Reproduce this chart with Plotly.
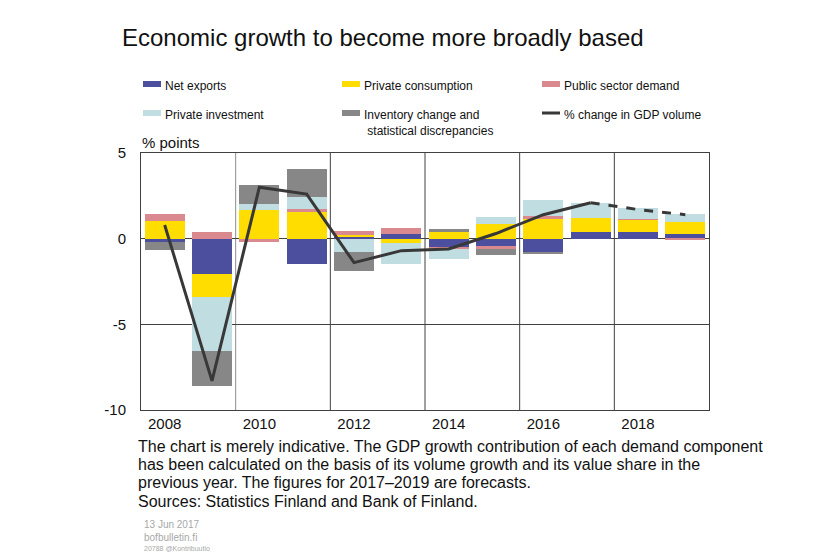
import plotly.graph_objects as go

years = [2008, 2009, 2010, 2011, 2012, 2013, 2014, 2015, 2016, 2017, 2018, 2019]
net_exports = [-0.17, -2.05, 0.0, -1.47, 0.10, 0.27, -0.52, -0.42, -0.75, 0.41, 0.41, 0.27]
private_consumption = [1.04, -1.37, 1.66, 1.56, 0.13, -0.25, 0.41, 0.85, 1.12, 0.77, 0.71, 0.68]
public_sector = [0.39, 0.41, -0.17, 0.16, 0.19, 0.37, -0.10, -0.21, 0.19, 0.0, 0.03, -0.05]
private_investment = [0.0, -3.11, 0.39, 0.71, -0.75, -1.23, -0.56, 0.39, 0.97, 0.92, 0.64, 0.48]
inventory = [-0.52, -2.09, 1.10, 1.61, -1.12, 0.0, 0.15, -0.31, -0.12, 0.0, 0.0, 0.0]
gdp = [0.8, -8.3, 3.0, 2.6, -1.4, -0.7, -0.6, 0.3, 1.4, 2.1, 1.7, 1.4]
forecast_start = 2017

series = [
    ("Net exports", net_exports, "#4B4F9E"),
    ("Private consumption", private_consumption, "#FFDD00"),
    ("Public sector demand", public_sector, "#DA8A8E"),
    ("Private investment", private_investment, "#C0DEE2"),
    ("Inventory change and statistical discrepancies", inventory, "#878787"),
]
tick_years = [2008, 2010, 2012, 2014, 2016, 2018]
y_ticks = [-10, -5, 0, 5]
y_tick_text = ["-10", "-5", "0", "5"]

# page offset (body margin) and window geometry
OFF = 8
WIN_W, WIN_H = 830, 556
W, H = WIN_W - OFF, WIN_H - OFF
# plot area in window pixels
L, R, T, B = 141, 709, 153, 410

def px(x):
    return (x - L) / (R - L)

def py(y):
    return (B - y) / (B - T)

fig = go.Figure()
for name, vals, col in series:
    fig.add_trace(go.Bar(x=years, y=vals, name=name, marker=dict(color=col, line=dict(width=0)),
                         width=0.85, showlegend=False))

hist_x = [y for y in years if y <= forecast_start]
hist_y = [g for y, g in zip(years, gdp) if y <= forecast_start]
fc_x = [y for y in years if y >= forecast_start]
fc_y = [g for y, g in zip(years, gdp) if y >= forecast_start]
fig.add_trace(go.Scatter(x=hist_x, y=hist_y, mode="lines", line=dict(color="#383838", width=3),
                         showlegend=False))
fig.add_trace(go.Scatter(x=fc_x, y=fc_y, mode="lines", line=dict(color="#383838", width=3, dash="dash"),
                         showlegend=False))

shapes = []
for i, gx in enumerate([2009.5, 2011.5, 2013.5, 2015.5, 2017.5]):
    shapes.append(dict(type="line", xref="x", yref="paper", x0=gx, x1=gx, y0=0, y1=1,
                       line=dict(color="#8c8c8c" if i == 0 else "#404040", width=1), layer="below"))

annotations = []
font = "Liberation Sans, Arial, sans-serif"

# custom legend
leg = [
    (143, 84, "Net exports", "#4B4F9E", "rect"),
    (342, 84, "Private consumption", "#FFDD00", "rect"),
    (542, 84, "Public sector demand", "#DA8A8E", "rect"),
    (143, 113, "Private investment", "#C0DEE2", "rect"),
    (342, 113, "Inventory change and<br> statistical discrepancies", "#878787", "rect"),
    (542, 113, "% change in GDP volume", "#383838", "line"),
]
for x0, yc, label, col, kind in leg:
    if kind == "rect":
        shapes.append(dict(type="rect", xref="paper", yref="paper", x0=px(x0), x1=px(x0 + 18),
                           y0=py(yc + 3), y1=py(yc - 3), fillcolor=col, line=dict(width=0)))
    else:
        shapes.append(dict(type="line", xref="paper", yref="paper", x0=px(x0), x1=px(x0 + 18),
                           y0=py(yc), y1=py(yc), line=dict(color=col, width=3)))
    annotations.append(dict(xref="paper", yref="paper", x=px(x0 + 20), y=py(yc - 7), text=label,
                            showarrow=False, xanchor="left", yanchor="top", align="left",
                            font=dict(family=font, size=12, color="#111")))

annotations.append(dict(xref="paper", yref="paper", x=px(140), y=py(143), text="% points",
                        showarrow=False, xanchor="left", yanchor="middle",
                        font=dict(family=font, size=15, color="#111")))

notes = [
    "The chart is merely indicative. The GDP growth contribution of each demand component",
    "has been calculated on the basis of its volume growth and its value share in the",
    "previous year. The figures for 2017\u20132019 are forecasts.",
    "Sources: Statistics Finland and Bank of Finland.",
]
for i, line in enumerate(notes):
    annotations.append(dict(xref="paper", yref="paper", x=px(136), y=py(446 + i * 18.4), text=line,
                            showarrow=False, xanchor="left", yanchor="middle",
                            font=dict(family=font, size=16, color="#111")))

small = [("13 Jun 2017", 524, 10), ("bofbulletin.fi", 537, 10), ("20788 @Kontribuutio", 548, 7)]
for t, yy, s in small:
    annotations.append(dict(xref="paper", yref="paper", x=px(142), y=py(yy), text=t,
                            showarrow=False, xanchor="left", yanchor="middle",
                            font=dict(family=font, size=s, color="#A8A8A8")))

fig.update_layout(
    width=W, height=H,
    margin=dict(l=L - OFF, r=WIN_W - R, t=T - OFF, b=WIN_H - B, pad=0),
    paper_bgcolor="white", plot_bgcolor="white",
    barmode="relative", bargap=0,
    title=dict(text="Economic growth to become more broadly based", x=(122 - OFF) / W, xanchor="left",
               y=1 - (38 - OFF) / H, yanchor="middle", font=dict(family=font, size=24, color="#111")),
    xaxis=dict(range=[2007.5, 2019.5], tickvals=tick_years, ticktext=[str(t) for t in tick_years],
               showgrid=False, zeroline=False, showline=True, mirror=True, linecolor="#404040",
               ticks="", tickfont=dict(family=font, size=15, color="#111")),
    yaxis=dict(range=[-10, 5], tickvals=y_ticks, ticktext=y_tick_text, showgrid=True,
               gridcolor="#404040", gridwidth=1, ticklabelstandoff=11,
               zeroline=False, showline=True, mirror=True, linecolor="#404040", ticks="",
               tickfont=dict(family=font, size=15, color="#111")),
    shapes=shapes, annotations=annotations,
)

fig.write_html("out.html")
